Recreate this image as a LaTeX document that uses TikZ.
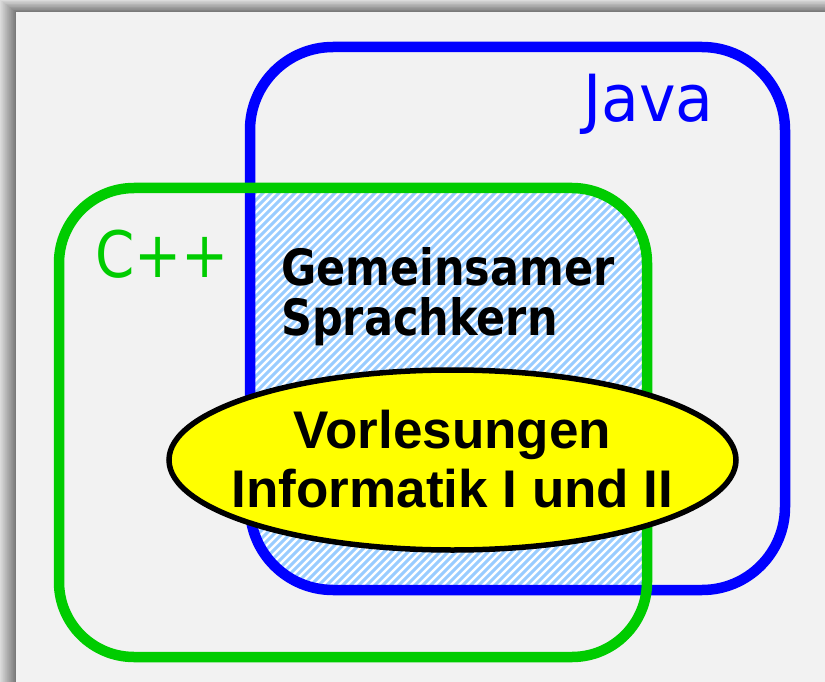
\documentclass[tikz,border=0pt]{standalone}
\usepackage{fontspec}
\usetikzlibrary{shapes.geometric}
\newfontfamily\tahomaf[FakeStretch=0.88]{DejaVu Sans}
\newfontfamily\javaf[FakeStretch=0.95]{DejaVu Sans}
\newfontfamily\tahomabf[FakeStretch=0.86]{DejaVu Sans Bold}
\newfontfamily\arialf{Liberation Sans}
\definecolor{bgpanel}{HTML}{F2F2F2}
\definecolor{javablue}{HTML}{0000FF}
\definecolor{cppgreen}{HTML}{00CC00}
\definecolor{hatchblue}{HTML}{99CCFF}
\definecolor{ellyellow}{HTML}{FFFF00}
\tikzset{
  langbox/.style={line width=10.5pt, rounded corners=#1},
  langlabel/.style={anchor=base west, inner sep=0pt, font=\tahomaf\fontsize{64}{64}\selectfont},
  corelabel/.style={anchor=base west, inner sep=0pt, font=\tahomabf\fontsize{50}{50}\selectfont},
  lecturelabel/.style={anchor=base, inner sep=0pt, font=\arialf\bfseries\fontsize{53}{53}\selectfont},
}
\begin{document}
\begin{tikzpicture}[x=1pt,y=-1pt]
\useasboundingbox (0,0) rectangle (825,682);
% shadow frame
\foreach \i in {0,...,15}{
  \fill[black!\the\numexpr 14+2*\i+\i/2\relax!white] (\i,0.75*\i) rectangle (825,682);
}
\fill[bgpanel] (16,12) rectangle (825,682);
% hatched intersection
\begin{scope}
  \clip[rounded corners=83] (250,47) rectangle (785,590);
  \clip[rounded corners=75] (59,188) rectangle (647,657);
  \fill[white] (240,180) rectangle (660,600);
  \foreach \c in {400,408,...,1280}{
    \draw[hatchblue, line width=3pt] (\c-600,600) -- (\c-180,180);
  }
\end{scope}
% language boxes
\draw[javablue, langbox=83] (250,47) rectangle (785,590);
\draw[cppgreen, langbox=75] (59,188) rectangle (647,657);
% labels
\node[langlabel, font=\javaf\fontsize{65}{65}\selectfont, text=javablue] (java) at (583,122) {Java};
\node[langlabel, text=cppgreen] (cpp) at (95,277) {C++};
\node[corelabel] (core1) at (281,285) {Gemeinsamer};
\node[corelabel] (core2) at (281,335) {Sprachkern};
% lecture ellipse
\node[ellipse, draw=black, line width=5.5pt, fill=ellyellow, inner sep=0pt,
      minimum width=567pt, minimum height=180pt] (lect) at (452.5,460) {};
\node[lecturelabel] (lect1) at (452.5,448) {Vorlesungen};
\node[lecturelabel] (lect2) at (452.5,507) {Informatik I und II};
\end{tikzpicture}
\end{document}
